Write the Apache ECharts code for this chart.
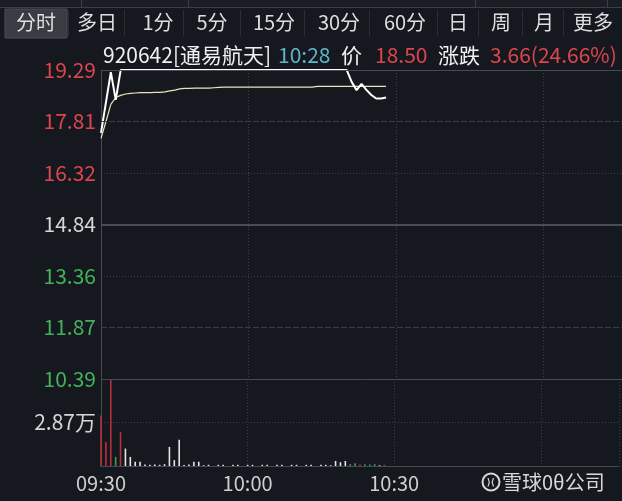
<!DOCTYPE html>
<html><head><meta charset="utf-8">
<script src="https://cdn.jsdelivr.net/npm/echarts@6/dist/echarts.min.js"></script>
<style>html,body{margin:0;padding:0;background:#15181f;overflow:hidden}#c{width:622px;height:501px}</style>
</head><body><div id="c"></div><script>
// ---- data ----
const tabs = ['分时','多日','1分','5分','15分','30分','60分','日','周','月','更多'];
const stockTitle = '920642[通易航天]';
const quoteTime = '10:28';
const lastPrice = '18.50';
const changeText = '3.66(24.66%)';
const yTickLabels = ['10.39','11.87','13.36','14.84','16.32','17.81','19.29'];
const yTickKinds  = ['g','g','g','w','r','r','r'];
const volTickLabel = '2.87万';
const timeLabels = ['09:30','10:00','10:30'];
const price = [17.48,18.35,19.23,18.43,
 19.29,19.29,19.29,19.29,19.29,19.29,19.29,19.29,19.29,19.29,
 19.29,19.29,19.29,19.29,19.29,19.29,19.29,19.29,19.29,19.29,
 19.29,19.29,19.29,19.29,19.29,19.29,19.29,19.29,19.29,19.29,
 19.29,19.29,19.29,19.29,19.29,19.29,19.29,19.29,19.29,19.29,
 19.29,19.29,19.29,19.29,19.29,19.29,19.29,
 18.95,18.71,18.89,18.72,18.57,18.47,18.47,18.50];
const avgPrice = [17.32,17.80,18.30,18.50,18.56,18.60,18.62,18.63,18.64,18.64,
 18.64,18.65,18.65,18.66,18.69,18.71,18.75,18.76,18.76,18.77,
 18.77,18.77,18.77,18.78,18.79,
 18.80,18.80,18.80,18.80,18.80,18.80,18.80,18.80,18.80,18.80,
 18.80,18.80,18.80,18.80,18.80,18.80,18.80,18.80,18.80,
 18.82,18.82,18.82,18.82,18.82,18.82,18.82,18.82,18.82,18.82,
 18.82,18.82,18.82,18.82,18.82];
const volume = [3.33,1.59,5.67,0.60,2.24,1.15,0.60,0.28,0.28,0.10,
 0.08,0.10,0.08,0.12,1.26,0.39,1.74,0.06,0.10,0.28,
 0.28,0.05,0.08,0.00,0.08,0.08,0.00,0.08,0.08,0.00,
 0.08,0.08,0.00,0.08,0.08,0.00,0.08,0.08,0.00,0.08,
 0.08,0.00,0.08,0.08,0.00,0.08,0.08,0.05,0.33,0.25,
 0.33,0.12,0.18,0.10,0.12,0.10,0.12,0.05,0.08];
const volColor = ['r','r','r','g','r','w','w','w','w','w',
 'w','w','w','w','w','w','w','w','w','w',
 'w','w','w','w','w','w','w','w','w','w',
 'w','w','w','w','w','w','w','w','w','w',
 'w','w','w','w','w','w','w','w','w','w',
 'w','g','g','r','g','g','g','w','r'];

// ---- styles ----
const C = {bg:'#15181f', red:'#dc464c', green:'#43b25b', white:'#d6d6d6', cyan:'#5fb6c6',
  solid:'#464a53', mid:'#5a5e66', dash:'#3a3e48', barR:'#b8303a', barG:'#3d9c50', barW:'#e6e6e6'};
const FONT = '"Noto Sans CJK SC","Noto Sans",sans-serif';
const yMin = 10.388, yMax = 19.292, yStep = 1.484;
const xMax = 106;

const chart = echarts.init(document.getElementById('c'), null, {renderer:'canvas'});

const graphics = [];
graphics.push({type:'rect', shape:{x:0,y:0,width:622,height:7}, style:{fill:'#1b1e25'}, silent:true});
graphics.push({type:'line', shape:{x1:0,y1:7.5,x2:622,y2:7.5}, style:{stroke:'#3c3f47',lineWidth:1}, silent:true});
[81,188,475,607].forEach(x=>graphics.push({type:'line', shape:{x1:x+0.5,y1:0,x2:x+0.5,y2:7}, style:{stroke:'#3c3f47',lineWidth:1}, silent:true}));
graphics.push({type:'rect', shape:{x:5,y:9,width:62,height:29}, style:{fill:'#3a3c43',stroke:'#4a4c53',lineWidth:1}, silent:true});
const tabX = [36,97,158,212,274,339,405,458,501,544,593];
const divX = [68,124,183,240,304,369,437,478,522,563];
divX.forEach(x=>graphics.push({type:'line', shape:{x1:x+0.5,y1:10,x2:x+0.5,y2:36}, style:{stroke:'#2a2d34',lineWidth:1}, silent:true}));
tabs.forEach((t,i)=>graphics.push({type:'text', x:tabX[i], y:22, style:{text:t, fill:'#dedede', font:'20px '+FONT, align:'center', verticalAlign:'middle'}, silent:true}));
const info = [[103,stockTitle,'#f0f0f0'],[278,quoteTime,C.cyan],[341,'价','#f0f0f0'],[375,lastPrice,C.red],[438,'涨跌','#f0f0f0'],[490,changeText,C.red]];
info.forEach(a=>graphics.push({type:'text', x:a[0], y:55, style:{text:a[1], fill:a[2], font:'21px '+FONT, align:'left', verticalAlign:'middle'}, silent:true}));
graphics.push({type:'circle', shape:{cx:491,cy:482,r:8.5}, style:{fill:'none',stroke:'#d8d8d8',lineWidth:2}, silent:true});
graphics.push({type:'text', x:491, y:482, style:{text:'⟩⟨', fill:'#d8d8d8', font:'bold 9px '+FONT, align:'center', verticalAlign:'middle'}, silent:true});
graphics.push({type:'text', x:502, y:482, style:{text:'雪球0θ公司', fill:'#d8d8d8', font:'20px '+FONT, align:'left', verticalAlign:'middle'}, silent:true});

const hLines = [
  {yAxis:19.292, lineStyle:{type:'solid', color:C.solid}},
  {yAxis:17.808, lineStyle:{type:[6,2], color:C.dash}},
  {yAxis:16.324, lineStyle:{type:[1,2], color:C.dash}},
  {yAxis:14.84,  lineStyle:{type:'solid', color:C.mid, width:1.5}},
  {yAxis:13.356, lineStyle:{type:[1,2], color:C.dash}},
  {yAxis:11.872, lineStyle:{type:[6,2], color:C.dash}},
  {yAxis:10.388, lineStyle:{type:'solid', color:C.solid}}
];

const colorMap = {r:C.barR, g:C.barG, w:C.barW};

chart.setOption({
  animation:false,
  backgroundColor:C.bg,
  textStyle:{fontFamily:FONT},
  grid:[
    {left:101, top:70, right:0, height:309},
    {left:101, top:379, right:0, height:87}
  ],
  xAxis:[
    {type:'value', gridIndex:0, min:0, max:xMax, interval:30,
     axisLine:{show:false}, axisTick:{show:false}, axisLabel:{show:false},
     splitLine:{show:true, lineStyle:{type:[1,2], color:C.dash}}},
    {type:'value', gridIndex:1, min:0, max:xMax, interval:30,
     axisLine:{show:true, lineStyle:{color:C.solid, width:1}}, axisTick:{show:false},
     axisLabel:{show:true, margin:7, fontSize:20, color:'#cfcfcf', fontFamily:FONT,
       formatter:v=>{const i=Math.round(v/30); return (Math.abs(v-i*30)<0.01 && timeLabels[i])?timeLabels[i]:'';}},
     splitLine:{show:true, lineStyle:{type:[1,2], color:C.dash}}}
  ],
  yAxis:[
    {type:'value', gridIndex:0, min:yMin, max:yMax, interval:yStep,
     axisLine:{show:true, lineStyle:{color:C.solid}}, axisTick:{show:false}, splitLine:{show:false},
     axisLabel:{margin:5, fontSize:21, fontFamily:FONT,
       formatter:v=>{const i=Math.round((v-yMin)/yStep); return yTickLabels[i]?('{'+yTickKinds[i]+'|'+yTickLabels[i]+'}'):'';},
       rich:{r:{color:C.red,fontSize:21,fontFamily:FONT}, g:{color:C.green,fontSize:21,fontFamily:FONT}, w:{color:C.white,fontSize:21,fontFamily:FONT}}}},
    {type:'value', gridIndex:1, min:0, max:5.74, interval:2.87,
     axisLine:{show:true, lineStyle:{color:C.solid}}, axisTick:{show:false},
     splitLine:{show:true, lineStyle:{type:[1,2], color:C.dash}},
     axisLabel:{margin:5, fontSize:21, color:C.white, fontFamily:FONT,
       formatter:v=>Math.abs(v-2.87)<0.001?volTickLabel:''}}
  ],
  series:[
    {type:'line', xAxisIndex:0, yAxisIndex:0, data:[], z:1, silent:true,
     markLine:{silent:true, symbol:'none', label:{show:false}, data:hLines, animation:false}},
    {name:'均价', type:'line', xAxisIndex:0, yAxisIndex:0, showSymbol:false, z:3, clip:false,
     data:avgPrice.map((p,i)=>[i,p]), lineStyle:{color:'#ece3bd', width:1.2}},
    {name:'价格', type:'line', xAxisIndex:0, yAxisIndex:0, showSymbol:false, z:4, clip:false,
     data:price.map((p,i)=>[i,p]), lineStyle:{color:'#ffffff', width:2}},
    {name:'成交量', type:'bar', xAxisIndex:1, yAxisIndex:1, barWidth:1.6, z:3,
     data:volume.map((v,i)=>({value:[i,v], itemStyle:{color:colorMap[volColor[i]]}}))}
  ],
  graphic:graphics
});
</script></body></html>
